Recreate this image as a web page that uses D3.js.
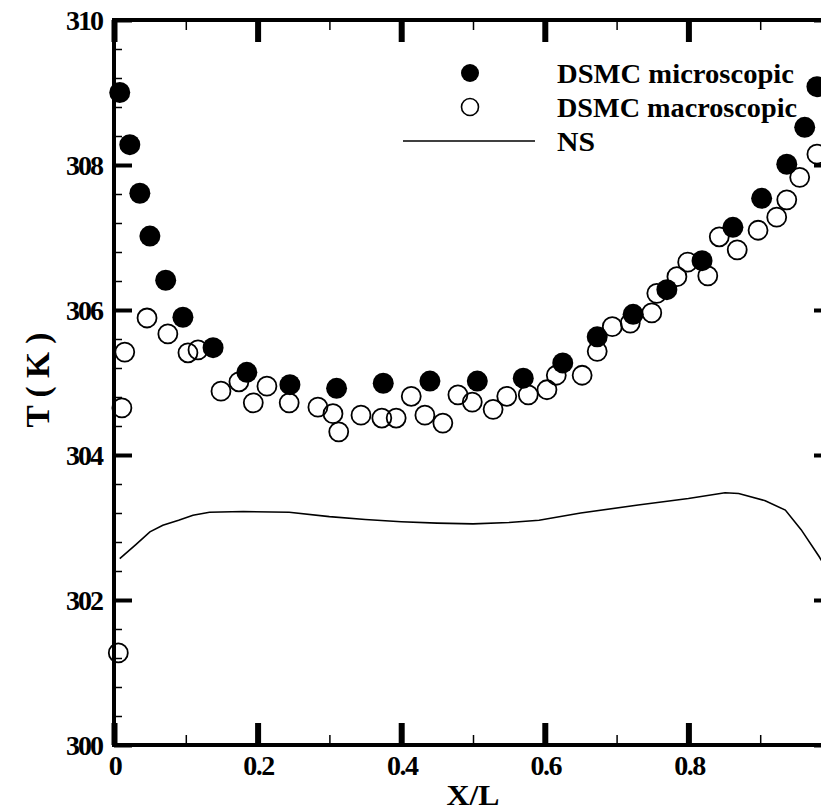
<!DOCTYPE html>
<html>
<head>
<meta charset="utf-8">
<script src="https://cdn.jsdelivr.net/npm/d3@7"></script>
<style>
html,body{margin:0;padding:0;background:#fff;}
svg{display:block;}
</style>
</head>
<body>
<svg id="chart" width="821" height="811"></svg>
<script>
// ---- data ----
const microX = [0.008,0.022,0.036,0.05,0.072,0.096,0.138,0.185,0.245,0.31,0.375,0.44,0.506,0.57,0.625,0.673,0.723,0.77,0.819,0.862,0.902,0.937,0.962,0.979];
const microT = [309.0,308.28,307.61,307.02,306.41,305.9,305.48,305.14,304.97,304.92,304.99,305.02,305.02,305.06,305.27,305.63,305.94,306.28,306.68,307.14,307.54,308.01,308.52,309.08];

const macroX = [0.006,0.011,0.015,0.046,0.075,0.103,0.117,0.149,0.174,0.194,0.213,0.244,0.284,0.305,0.313,0.344,0.373,0.393,0.414,0.433,0.458,0.479,0.499,0.528,0.547,0.577,0.603,0.616,0.652,0.673,0.694,0.719,0.749,0.756,0.784,0.799,0.827,0.843,0.868,0.897,0.923,0.937,0.955,0.979];
const macroT = [301.27,304.65,305.42,305.89,305.67,305.41,305.45,304.88,305.01,304.72,304.95,304.72,304.66,304.57,304.32,304.55,304.51,304.51,304.81,304.55,304.44,304.83,304.73,304.63,304.81,304.83,304.9,305.1,305.1,305.43,305.77,305.82,305.96,306.23,306.46,306.66,306.47,307.01,306.83,307.1,307.28,307.52,307.83,308.15];

const nsX = [0.008,0.03,0.05,0.068,0.09,0.11,0.133,0.18,0.244,0.3,0.35,0.4,0.45,0.5,0.55,0.592,0.65,0.73,0.8,0.851,0.87,0.907,0.935,0.957,0.982,1.0];
const nsT = [302.57,302.76,302.94,303.03,303.1,303.17,303.21,303.22,303.21,303.15,303.11,303.08,303.06,303.05,303.07,303.1,303.2,303.31,303.4,303.48,303.47,303.37,303.24,302.97,302.6,302.3];

const xMajor = [0,0.2,0.4,0.6,0.8,1.0];
const xLabels = ["0","0.2","0.4","0.6","0.8",""];
const yMajor = [300,302,304,306,308,310];
const yLabels = ["300","302","304","306","308","310"];
const legendLabels = ["DSMC microscopic","DSMC macroscopic","NS"];

// ---- layout ----
const FONT = "'Liberation Serif', 'DejaVu Serif', 'Times New Roman', Times, serif";
const svg = d3.select("#chart");
const x = d3.scaleLinear().domain([0,1]).range([114,832]);
const y = d3.scaleLinear().domain([300,310]).range([745,20]);

const xMinor = d3.range(0,1.0001,0.1).filter(v => Math.abs(v*5 - Math.round(v*5)) > 1e-6);
const yMinor = d3.range(300,310.0001,0.4).filter(v => Math.abs((v-300)/2 - Math.round((v-300)/2)) > 1e-6);

// NS line
const line = d3.line().x((d,i)=>x(nsX[i])).y((d,i)=>y(nsT[i]));
svg.append("path").datum(nsX).attr("d", line)
  .attr("fill","none").attr("stroke","#000").attr("stroke-width",1.6);

// macroscopic (open)
svg.append("g").selectAll("circle").data(macroX).join("circle")
  .attr("cx",(d)=>x(d)).attr("cy",(d,i)=>y(macroT[i])).attr("r",9.5)
  .attr("fill","none").attr("stroke","#000").attr("stroke-width",1.8);

// microscopic (filled)
svg.append("g").selectAll("circle").data(microX).join("circle")
  .attr("cx",(d)=>x(d)).attr("cy",(d,i)=>y(microT[i])).attr("r",10.5)
  .attr("fill","#000");

// axes
function styleAxis(g, w){
  g.select(".domain").remove();
  g.selectAll(".tick line").attr("stroke","#000").attr("stroke-width",w);
  g.selectAll(".tick text").remove();
}
svg.append("g").attr("transform",`translate(0,${y(300)})`)
  .call(d3.axisBottom(x).tickValues(xMajor).tickSize(-22).tickFormat(""))
  .call(g=>styleAxis(g,6));
svg.append("g").attr("transform",`translate(0,${y(300)})`)
  .call(d3.axisBottom(x).tickValues(xMinor).tickSize(-10).tickFormat(""))
  .call(g=>styleAxis(g,1.5));
svg.append("g").attr("transform",`translate(0,${y(310)})`)
  .call(d3.axisTop(x).tickValues(xMajor).tickSize(-22).tickFormat(""))
  .call(g=>styleAxis(g,6));
svg.append("g").attr("transform",`translate(0,${y(310)})`)
  .call(d3.axisTop(x).tickValues(xMinor).tickSize(-10).tickFormat(""))
  .call(g=>styleAxis(g,1.5));
svg.append("g").attr("transform",`translate(${x(0)},0)`)
  .call(d3.axisLeft(y).tickValues(yMajor).tickSize(-18).tickFormat(""))
  .call(g=>styleAxis(g,4));
svg.append("g").attr("transform",`translate(${x(0)},0)`)
  .call(d3.axisLeft(y).tickValues(yMinor).tickSize(-8).tickFormat(""))
  .call(g=>styleAxis(g,1.5));
svg.append("g").attr("transform",`translate(${x(1)},0)`)
  .call(d3.axisRight(y).tickValues(yMajor).tickSize(-18).tickFormat(""))
  .call(g=>styleAxis(g,4));
svg.append("g").attr("transform",`translate(${x(1)},0)`)
  .call(d3.axisRight(y).tickValues(yMinor).tickSize(-8).tickFormat(""))
  .call(g=>styleAxis(g,1.5));

// frame
svg.append("rect").attr("x",x(0)).attr("y",y(310)).attr("width",x(1)-x(0)).attr("height",y(300)-y(310))
  .attr("fill","none").attr("stroke","#000").attr("stroke-width",4);

// text layer
const tl = svg.append("g").attr("font-family",FONT).attr("font-weight","bold").attr("fill","#000")
  .style("font-family",FONT).style("font-weight","bold");

tl.append("g").selectAll("text").data(xMajor.filter((d,i)=>xLabels[i]!=="")).join("text")
  .attr("x",d=>x(d)+1).attr("y",y(300)+30).attr("text-anchor","middle")
  .attr("font-size","28px").attr("letter-spacing","-1.5px")
  .text((d,i)=>xLabels[i]);
tl.append("g").selectAll("text").data(yMajor).join("text")
  .attr("x",x(0)-12).attr("y",d=>y(d)+10).attr("text-anchor","end")
  .attr("font-size","28px").attr("letter-spacing","-2px")
  .text((d,i)=>yLabels[i]);

tl.append("text").attr("x",(x(0)+x(1))/2).attr("y",805).attr("text-anchor","middle")
  .attr("font-size","29px").attr("textLength",53).attr("lengthAdjust","spacingAndGlyphs").text("X/L");
tl.append("text").attr("transform","translate(49,380) rotate(-90)").attr("text-anchor","middle")
  .attr("font-size","33px").attr("textLength",95).attr("lengthAdjust","spacingAndGlyphs").text("T ( K )");

// legend
const lg = svg.append("g");
const rowsY = [73,107,141];
lg.append("circle").attr("cx",470).attr("cy",rowsY[0]).attr("r",9).attr("fill","#000");
lg.append("circle").attr("cx",470).attr("cy",rowsY[1]).attr("r",8.5).attr("fill","none").attr("stroke","#000").attr("stroke-width",1.6);
lg.append("line").attr("x1",403).attr("x2",535).attr("y1",rowsY[2]).attr("y2",rowsY[2]).attr("stroke","#000").attr("stroke-width",1.6);
const widths = [237,240,38];
tl.append("g").selectAll("text").data(legendLabels).join("text")
  .attr("x",557).attr("y",(d,i)=>rowsY[i]+10)
  .attr("font-size","28px").attr("textLength",(d,i)=>widths[i]).attr("lengthAdjust","spacingAndGlyphs")
  .text(d=>d);
</script>
</body>
</html>
